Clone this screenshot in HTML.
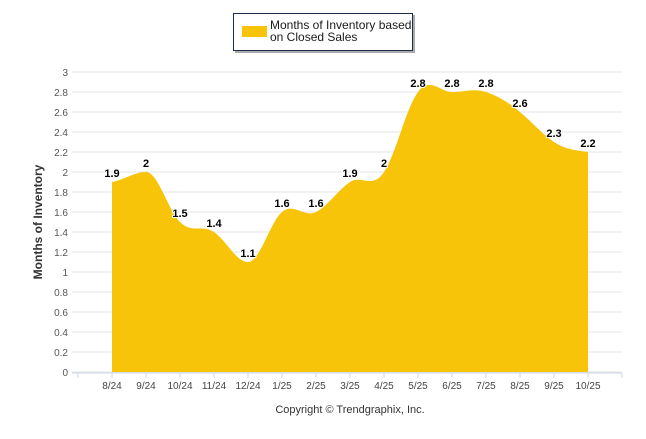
<!DOCTYPE html>
<html><head><meta charset="utf-8"><style>
body{margin:0;background:#fff;width:646px;height:434px;overflow:hidden;font-family:"Liberation Sans",sans-serif}
</style></head><body>
<svg width="646" height="434">
<g id="grid"></g>
<g id="area"></g>
<g id="axes"></g>
<g id="labels"></g>
<text x="0" y="0" transform="translate(42,222) rotate(-90)" text-anchor="middle" font-size="12" font-weight="bold" fill="#333">Months of Inventory</text>
<text x="350" y="413" text-anchor="middle" font-size="11" fill="#333">Copyright © Trendgraphix, Inc.</text>
<g>
<rect x="235" y="15" width="180" height="38" fill="#555" opacity="0.5"/>
<rect x="233.5" y="13.5" width="179" height="37" fill="#fff" stroke="#1f2d4d" stroke-width="1"/>
<rect x="242" y="26" width="25" height="11" fill="#f7c40a"/>
<text x="270" y="29" font-size="12" fill="#1a1a1a"><tspan x="270">Months of Inventory based</tspan><tspan x="270" dy="12">on Closed Sales</tspan></text>
</g>
</svg>
<script>
const categories=["8/24","9/24","10/24","11/24","12/24","1/25","2/25","3/25","4/25","5/25","6/25","7/25","8/25","9/25","10/25"];
const values=[1.9,2,1.5,1.4,1.1,1.6,1.6,1.9,2,2.8,2.8,2.8,2.6,2.3,2.2];
const yTicks=[0,0.2,0.4,0.6,0.8,1,1.2,1.4,1.6,1.8,2,2.2,2.4,2.6,2.8,3];
const NS="http://www.w3.org/2000/svg";
const x=i=>112+i*34, y=v=>372-v*100;
function mk(t,a,p){const e=document.createElementNS(NS,t);for(const k in a)e.setAttribute(k,a[k]);p.appendChild(e);return e;}
const grid=document.getElementById('grid'),axes=document.getElementById('axes'),lab=document.getElementById('labels'),area=document.getElementById('area');
yTicks.forEach(t=>{
 const l=mk('line',{x1:72,x2:622,y1:y(t),y2:y(t),stroke:'#e6e6e6'},grid);
 
 
 const tx=mk('text',{x:68,y:y(t)+4,'text-anchor':'end','font-size':10,fill:'#555'},axes);
 tx.textContent=t;
 
 
});
mk('line',{x1:72,x2:622,y1:373,y2:373,stroke:'#ccd6eb'},axes);
for(let i=-1;i<=categories.length;i++){mk('line',{x1:x(i),x2:x(i),y1:373,y2:378,stroke:'#ccd6eb'},axes);}
categories.forEach((c,i)=>{
 const tx=mk('text',{x:x(i),y:389,'text-anchor':'middle','font-size':10,fill:'#444'},axes);
 tx.textContent=c;
 
 
});
const pts=values.map((v,i)=>[x(i),y(v)]);
let d=`M${pts[0][0]},372 L${pts[0][0]},${pts[0][1]}`;
for(let i=0;i<pts.length-1;i++){
 const p0=pts[Math.max(0,i-1)],p1=pts[i],p2=pts[i+1],p3=pts[Math.min(pts.length-1,i+2)];
 const t=0.2;
 let c1y=p1[1]+(p2[1]-p0[1])*t, c2y=p2[1]-(p3[1]-p1[1])*t;
 const s1=(p1[1]-p0[1])*(p2[1]-p1[1]); if(s1<0)c1y=p1[1];
 const s2=(p2[1]-p1[1])*(p3[1]-p2[1]); if(s2<0)c2y=p2[1];
 d+=` C${p1[0]+12},${c1y} ${p2[0]-12},${c2y} ${p2[0]},${p2[1]}`;
}
d+=` L${pts[pts.length-1][0]},372 Z`;
const ap=mk('path',{d:d,fill:'#f7c40a'},area);


values.forEach((v,i)=>{
 const tx=mk('text',{x:x(i),y:y(v)-5,'text-anchor':'middle','font-size':11,'font-weight':'bold',fill:'#000',stroke:'#fff','stroke-width':2,'paint-order':'stroke'},lab);
 tx.textContent=v;
 
 
});
</script>
</body></html>
